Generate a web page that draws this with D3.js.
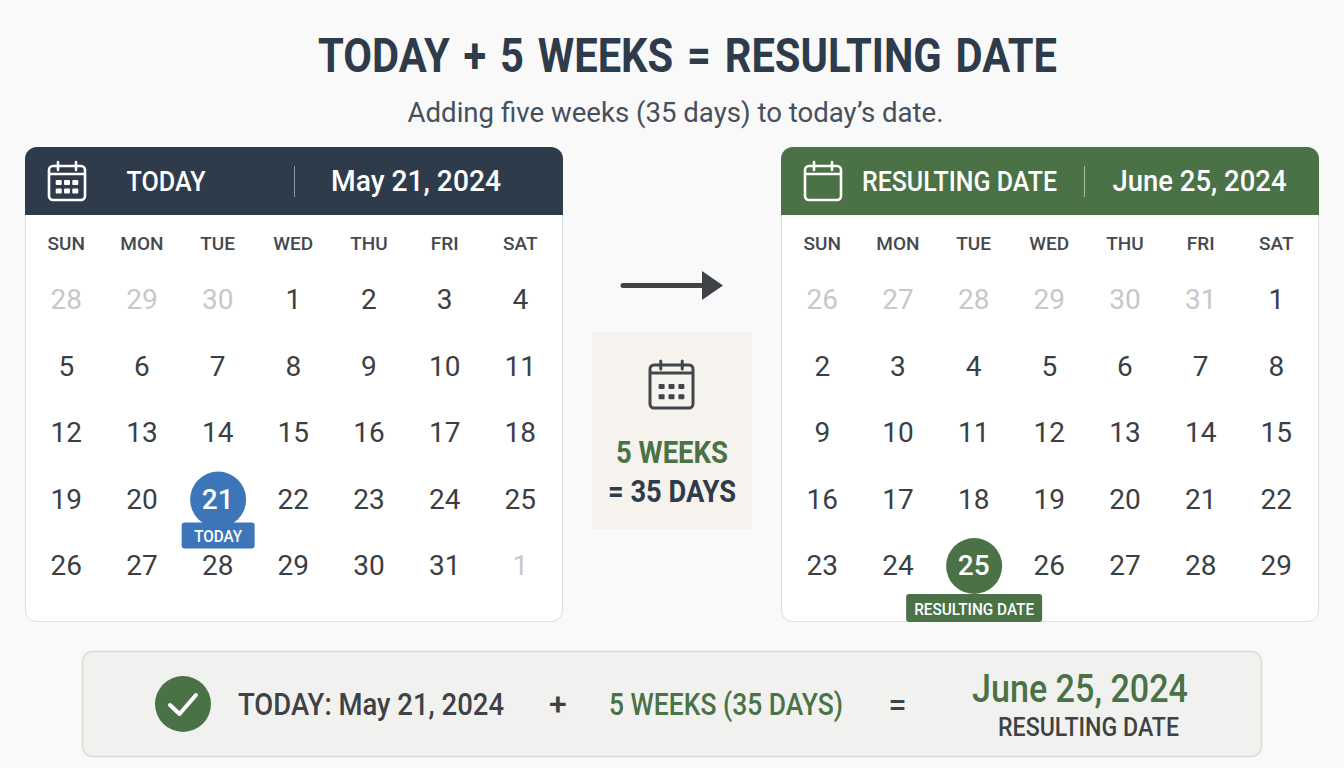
<!DOCTYPE html>
<html>
<head>
<meta charset="utf-8">
<title>Today + 5 weeks</title>
<script src="https://cdnjs.cloudflare.com/ajax/libs/d3/7.8.5/d3.min.js"></script>
<style>
  html, body { margin: 0; padding: 0; background: #f9f9f9; overflow: hidden; }
  svg { display: block; }
  text { font-family: Roboto, "Noto Sans", sans-serif; }
</style>
</head>
<body>
<svg id="chart" width="1344" height="768"></svg>
<script>
// data
var weekdays = ["SUN", "MON", "TUE", "WED", "THU", "FRI", "SAT"];
var weekRows = [0, 1, 2, 3, 4];
var mayDays = [28, 29, 30, 1, 2, 3, 4, 5, 6, 7, 8, 9, 10, 11, 12, 13, 14, 15, 16, 17, 18, 19, 20, 21, 22, 23, 24, 25, 26, 27, 28, 29, 30, 31, 1];
var mayMuted = [0, 1, 2, 34];
var mayMarked = 23;
var juneDays = [26, 27, 28, 29, 30, 31, 1, 2, 3, 4, 5, 6, 7, 8, 9, 10, 11, 12, 13, 14, 15, 16, 17, 18, 19, 20, 21, 22, 23, 24, 25, 26, 27, 28, 29];
var juneMuted = [0, 1, 2, 3, 4, 5];
var juneMarked = 30;

const NAVY = "#2e3b4b";
const GREEN = "#4a7246";
const BLUE = "#3d76b8";
const INK = "#3b3f44";
const MUTED = "#c6c8c9";

var svg = d3.select("#chart");

// text helper, width squeezes the glyphs because the picture uses a narrow face
function label(x, y, str, size, weight, fill, width, anchor) {
  var t = svg.append("text")
    .attr("x", x).attr("y", y)
    .attr("font-size", size)
    .attr("font-weight", weight)
    .attr("fill", fill)
    .attr("text-anchor", anchor || "middle")
    .text(str);
  if (width) {
    t.attr("textLength", width).attr("lengthAdjust", "spacingAndGlyphs");
  }
  return t;
}

// calendar icon
function calendarIcon(x, y, w, h, color, dots, sw) {
  var g = svg.append("g").attr("transform", "translate(" + x + "," + y + ")");
  g.append("rect")
    .attr("x", 0).attr("y", 4).attr("width", w).attr("height", h - 4)
    .attr("rx", 4)
    .attr("fill", "none").attr("stroke", color).attr("stroke-width", sw);
  g.append("line")
    .attr("x1", 0).attr("x2", w).attr("y1", 12).attr("y2", 12)
    .attr("stroke", color).attr("stroke-width", sw);
  [w * 0.25, w * 0.75].forEach(function(px) {
    g.append("line")
      .attr("x1", px).attr("x2", px).attr("y1", 0).attr("y2", 8)
      .attr("stroke", color).attr("stroke-width", sw).attr("stroke-linecap", "round");
  });
  if (dots) {
    var dx = d3.scalePoint().domain([0, 1, 2]).range([w * 0.27, w * 0.73]);
    var dy = d3.scalePoint().domain([0, 1]).range([h * 0.54, h * 0.76]);
    [0, 1].forEach(function(r) {
      [0, 1, 2].forEach(function(c) {
        g.append("rect")
          .attr("x", dx(c) - 3).attr("y", dy(r) - 2.5)
          .attr("width", 6).attr("height", 5).attr("rx", 1)
          .attr("fill", color);
      });
    });
  }
}

// one calendar card
function drawCalendar(c) {
  svg.append("rect")
    .attr("x", c.x + 0.5).attr("y", 147.5).attr("width", 537).attr("height", 474)
    .attr("rx", 11)
    .attr("fill", "#ffffff").attr("stroke", "#dcdedf");
  svg.append("path")
    .attr("d", "M" + c.x + ",215V159a12,12 0 0 1 12,-12H" + (c.x + 526) + "a12,12 0 0 1 12,12V215Z")
    .attr("fill", c.color);

  var xs = d3.scalePoint().domain(weekdays).range([c.x + 41.3, c.x + 495.3]);
  var ys = d3.scalePoint().domain(weekRows).range([299, 565]);

  svg.append("g").selectAll("text")
    .data(weekdays)
    .enter()
    .append("text")
    .attr("x", function(d) { return xs(d); })
    .attr("y", 250)
    .attr("text-anchor", "middle")
    .attr("font-size", 19)
    .attr("font-weight", 500)
    .attr("fill", "#45494e")
    .text(function(d) { return d; });

  var cx = xs(weekdays[c.marked % 7]);
  var cy = ys(Math.floor(c.marked / 7));
  svg.append("circle")
    .attr("cx", cx + 0.5).attr("cy", cy + 1).attr("r", 28)
    .attr("fill", c.mark);
  svg.append("rect")
    .attr("x", cx - c.tagW / 2 + 0.5).attr("y", cy + c.tagY)
    .attr("width", c.tagW).attr("height", c.tagH)
    .attr("rx", 3)
    .attr("fill", c.mark);

  svg.append("g").selectAll("text")
    .data(c.days)
    .enter()
    .append("text")
    .attr("x", function(d, i) { return xs(weekdays[i % 7]); })
    .attr("y", function(d, i) { return ys(Math.floor(i / 7)) + 10; })
    .attr("text-anchor", "middle")
    .attr("font-size", 28)
    .attr("font-weight", function(d, i) { return i === c.marked ? 500 : 400; })
    .attr("fill", function(d, i) {
      if (i === c.marked) return "#ffffff";
      return c.muted.indexOf(i) >= 0 ? MUTED : INK;
    })
    .text(function(d) { return d; });

  label(cx + 0.5, cy + c.tagY + c.tagH - 7, c.tag, 16.5, 500, "#ffffff", c.tagText);
}

// title
label(687.5, 72, "TODAY + 5 WEEKS = RESULTING DATE", 49, 700, NAVY, 739)
  .attr("word-spacing", 4);
label(675.5, 122, "Adding five weeks (35 days) to today\u2019s date.", 27, 400, "#46505b", 536);

drawCalendar({ x: 25, color: NAVY, mark: BLUE, days: mayDays, muted: mayMuted, marked: mayMarked, tag: "TODAY", tagW: 73, tagH: 26, tagY: 24, tagText: 48 });
drawCalendar({ x: 781, color: GREEN, mark: GREEN, days: juneDays, muted: juneMuted, marked: juneMarked, tag: "RESULTING DATE", tagW: 136, tagH: 28, tagY: 29, tagText: 120 });

// card headers
calendarIcon(49, 162, 36, 38, "#ffffff", true, 2.6);
label(166, 191, "TODAY", 28, 500, "#ffffff", 79);
svg.append("line").attr("x1", 294.5).attr("x2", 294.5).attr("y1", 166).attr("y2", 197).attr("stroke", "#8b94a0");
label(416, 191, "May 21, 2024", 30, 500, "#ffffff", 170);

calendarIcon(805, 162, 36, 38, "#ffffff", false, 2.6);
label(959.5, 191, "RESULTING DATE", 28, 500, "#ffffff", 195);
svg.append("line").attr("x1", 1084.5).attr("x2", 1084.5).attr("y1", 166).attr("y2", 197).attr("stroke", "#a5bca3");
label(1199.5, 191, "June 25, 2024", 30, 500, "#ffffff", 174);

// middle arrow and note
svg.append("line")
  .attr("x1", 623).attr("x2", 705).attr("y1", 285.5).attr("y2", 285.5)
  .attr("stroke", "#3f4347").attr("stroke-width", 5).attr("stroke-linecap", "round");
svg.append("path").attr("d", "M702,271L723,285.5L702,300Z").attr("fill", "#3f4347");

svg.append("rect")
  .attr("x", 592).attr("y", 332).attr("width", 160).attr("height", 197)
  .attr("fill", "#f6f3ee");
calendarIcon(650, 361, 43, 47, "#41464c", true, 3);
label(672, 463, "5 WEEKS", 31, 700, GREEN, 112);
label(672, 502, "= 35 DAYS", 31, 700, NAVY, 128);

// bottom summary
svg.append("rect")
  .attr("x", 82.5).attr("y", 651.5).attr("width", 1179).attr("height", 105)
  .attr("rx", 10)
  .attr("fill", "#f1f2f0").attr("stroke", "#d5decf").attr("stroke-width", 1.5);
svg.append("circle").attr("cx", 183).attr("cy", 704).attr("r", 28).attr("fill", GREEN);
svg.append("path")
  .attr("d", "M170,705L179.5,714L196,695")
  .attr("fill", "none").attr("stroke", "#ffffff").attr("stroke-width", 4)
  .attr("stroke-linecap", "round").attr("stroke-linejoin", "round");
label(371, 715, "TODAY: May 21, 2024", 31, 500, "#3e4246", 266);
label(558, 715, "+", 32, 500, "#3e4246");
label(726, 715, "5 WEEKS (35 DAYS)", 31, 500, GREEN, 234);
label(897.5, 715, "=", 32, 500, "#3e4246");
label(1080, 702, "June 25, 2024", 39, 500, GREEN, 216);
label(1088.5, 736, "RESULTING DATE", 26, 500, "#3e4246", 181);
</script>
</body>
</html>
